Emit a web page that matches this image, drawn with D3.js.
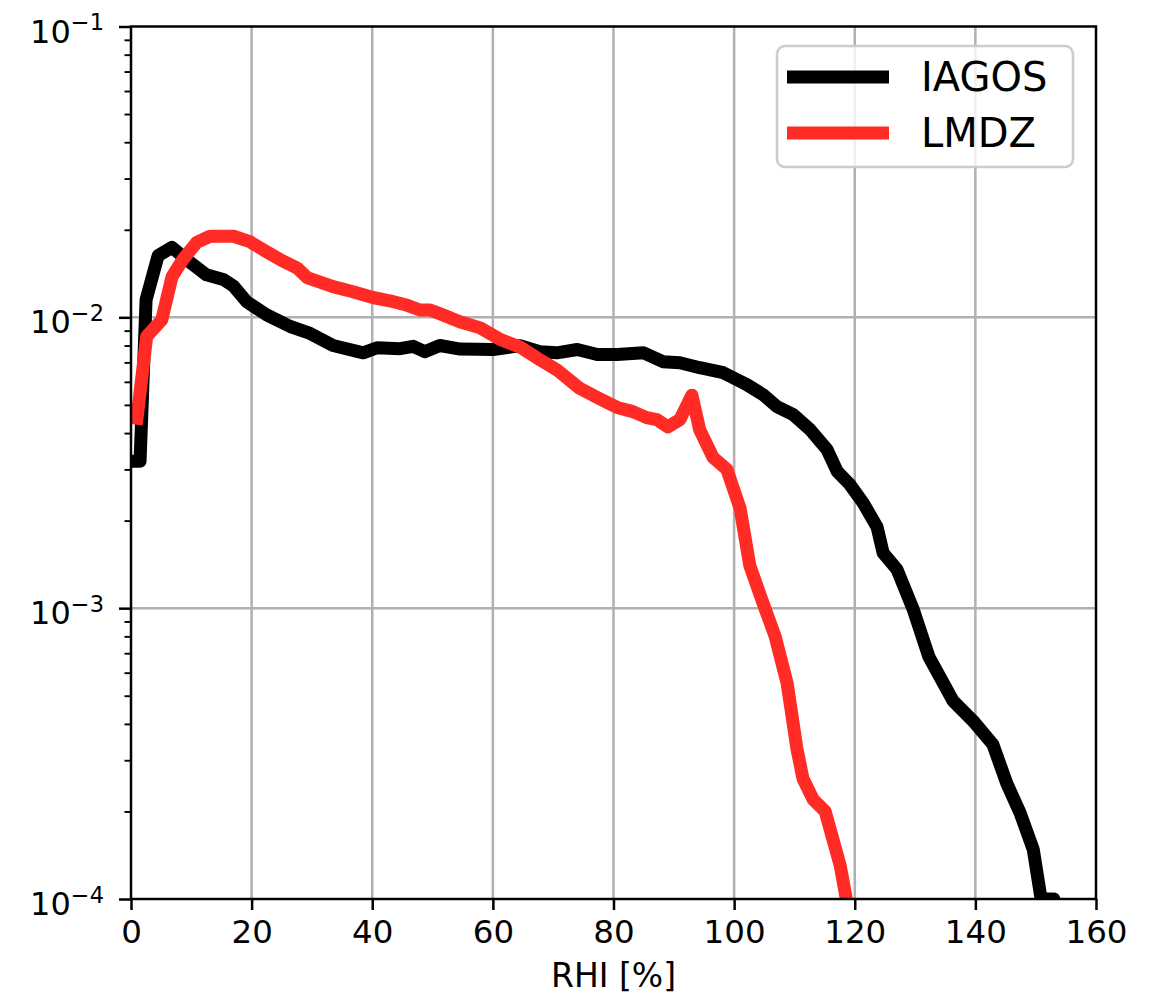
<!DOCTYPE html>
<html><head><meta charset="utf-8">
<script src="https://cdn.jsdelivr.net/npm/d3@7"></script>
<style>body{margin:0;background:#fff;} svg{display:block;font-family:"DejaVu Sans",sans-serif;}</style>
</head><body>
<svg id="c" width="1156" height="998"></svg>
<script>
// ---- data ----
const xTicks = [0, 20, 40, 60, 80, 100, 120, 140, 160];
const yTicks = [1e-4, 1e-3, 1e-2, 1e-1];
const yTickExp = ["\u22124", "\u22123", "\u22122", "\u22121"];
const seriesNames = ["IAGOS", "LMDZ"];
const seriesColors = ["#000000", "#ff2b24"];

const iagosRHI = [0.5, 1.5, 2.5, 4.5, 6.8, 9.2, 11, 12.5, 15.3, 17, 19.2, 22.5, 26.4, 29.7, 33.5, 38.5, 40.8, 44.6, 46.8, 48.7, 51.2, 54.6, 60, 64.5, 67.8, 70.6, 74, 77.3, 80.6, 85, 88.2, 91, 94.3, 98.2, 100.5, 102.1, 104.8, 107.1, 109.8, 112.6, 115.4, 117.1, 119.2, 121.4, 123.7, 124.7, 127, 129.7, 132.3, 136.3, 139.6, 142.9, 145.2, 147.4, 149.6, 150.9, 153, 155];
const iagosPDF = [0.0032, 0.0032, 0.0115, 0.0163, 0.0174, 0.0158, 0.0148, 0.0140, 0.0135, 0.0128, 0.0113, 0.0102, 0.0093, 0.0088, 0.0080, 0.00755, 0.00786, 0.00780, 0.00795, 0.00762, 0.0080, 0.00778, 0.00775, 0.00799, 0.00762, 0.00755, 0.00775, 0.00745, 0.00745, 0.00755, 0.00704, 0.00698, 0.00671, 0.00645, 0.0061, 0.00587, 0.00542, 0.00493, 0.00463, 0.00411, 0.00351, 0.00295, 0.00266, 0.0023, 0.0019, 0.00155, 0.00136, 0.00099, 0.00068, 0.00048, 0.00041, 0.00034, 0.00025, 0.000198, 0.000148, 0.0001, 0.0001, 0.00008];

const lmdzRHI = [1, 2.6, 5.1, 6.8, 8.6, 10.9, 13.1, 17, 19.7, 22.5, 25.2, 27.5, 29.2, 33.5, 36.8, 40.1, 42.9, 45.8, 47.9, 49.6, 51.7, 54.5, 57.9, 61.2, 64.5, 67.8, 70.6, 74.4, 77.3, 80.6, 83.2, 85.5, 87.2, 89, 91, 93, 94.3, 96.5, 98.8, 101, 102.6, 104.8, 106.8, 108.8, 110.4, 111.4, 113.1, 115.1, 116.4, 117.6, 118.6, 120];
const lmdzPDF = [0.0045, 0.0086, 0.0098, 0.0138, 0.0158, 0.0181, 0.019, 0.019, 0.0182, 0.0168, 0.0156, 0.0148, 0.0137, 0.01275, 0.01225, 0.0117, 0.0114, 0.0110, 0.0106, 0.0106, 0.0102, 0.00966, 0.0092, 0.0084, 0.0079, 0.00715, 0.0066, 0.0057, 0.0053, 0.0049, 0.00474, 0.00452, 0.00445, 0.0042, 0.00445, 0.0054, 0.0041, 0.0033, 0.0030, 0.0022, 0.0014, 0.00104, 0.0008, 0.00055, 0.00033, 0.00026, 0.00022, 0.0002, 0.00016, 0.00013, 0.0001, 0.00007];

// ---- layout ----
const L = 131, R = 1096, T = 26.5, B = 899;
const svg = d3.select("#c");
const x = d3.scaleLinear().domain([0, 160]).range([L, R]);
const y = d3.scaleLog().domain([1e-4, 1e-1]).range([B, T]);

svg.append("defs").append("clipPath").attr("id", "clip")
  .append("rect").attr("x", L).attr("y", T).attr("width", R - L).attr("height", B - T);

// grid
const grid = svg.append("g");
grid.selectAll("line.gx").data(xTicks.filter(d => d > 0 && d < 160)).join("line")
  .attr("x1", d => x(d)).attr("x2", d => x(d)).attr("y1", T).attr("y2", B)
  .attr("stroke", "#b0b0b0").attr("stroke-width", 2.5);
grid.selectAll("line.gy").data(yTicks.filter(d => d > 1e-4 && d < 1e-1)).join("line")
  .attr("y1", d => y(d)).attr("y2", d => y(d)).attr("x1", L).attr("x2", R)
  .attr("stroke", "#b0b0b0").attr("stroke-width", 2.5);

// lines
const series = [
  {name: seriesNames[0], xs: iagosRHI, ys: iagosPDF, color: seriesColors[0]},
  {name: seriesNames[1], xs: lmdzRHI, ys: lmdzPDF, color: seriesColors[1]}
];
const line = d3.line().x(d => x(d[0])).y(d => y(d[1]));
const lg = svg.append("g").attr("clip-path", "url(#clip)");
series.forEach(s => {
  lg.append("path").datum(d3.zip(s.xs, s.ys)).attr("d", line)
    .attr("fill", "none").attr("stroke", s.color).attr("stroke-width", 13)
    .attr("stroke-linejoin", "round").attr("stroke-linecap", "square");
});

// axes
const xAxis = svg.append("g").attr("transform", `translate(0,${B})`)
  .call(d3.axisBottom(x).tickValues(xTicks).tickSize(11).tickPadding(10).tickFormat(d3.format("d")));
xAxis.select(".domain").remove();
xAxis.selectAll(".tick line").attr("stroke", "#000").attr("stroke-width", 2.5);
xAxis.selectAll(".tick text").attr("font-size", 32.5).attr("font-family", "DejaVu Sans").attr("fill", "#000");

const minor = [];
[1e-4, 1e-3, 1e-2].forEach(b => { for (let k = 2; k <= 9; k++) minor.push(b * k); });
const yMinor = svg.append("g").attr("transform", `translate(${L},0)`)
  .call(d3.axisLeft(y).tickValues(minor).tickSize(6.5).tickFormat(""));
yMinor.select(".domain").remove();
yMinor.selectAll(".tick line").attr("stroke", "#000").attr("stroke-width", 1.9);

const yAxis = svg.append("g").attr("transform", `translate(${L},0)`)
  .call(d3.axisLeft(y).tickValues(yTicks).tickSize(12).tickFormat(""));
yAxis.select(".domain").remove();
yAxis.selectAll(".tick line").attr("stroke", "#000").attr("stroke-width", 2.5);
yAxis.selectAll(".tick").each(function(d, i) {
  const t = d3.select(this).append("text").attr("x", -27).attr("y", 15.5)
    .attr("text-anchor", "end").attr("fill", "#000").attr("font-family", "DejaVu Sans");
  t.append("tspan").attr("font-size", 32).text("10");
  t.append("tspan").attr("font-size", 22.5).attr("dy", -12.5).text(yTickExp[i]);
});

// spines
svg.append("rect").attr("x", L).attr("y", T).attr("width", R - L).attr("height", B - T)
  .attr("fill", "none").attr("stroke", "#000").attr("stroke-width", 2.5);

// x label
svg.append("text").attr("x", (L + R) / 2).attr("y", 987).attr("text-anchor", "middle")
  .attr("font-size", 33).attr("fill", "#000").text("RHI [%]");

// legend
const leg = svg.append("g");
leg.append("rect").attr("x", 777).attr("y", 46).attr("width", 296).attr("height", 121)
  .attr("rx", 8).attr("fill", "#fff").attr("fill-opacity", 0.8)
  .attr("stroke", "#cccccc").attr("stroke-width", 2.5);
series.forEach((s, i) => {
  const ly = 77 + i * 56;
  leg.append("line").attr("x1", 787).attr("x2", 889).attr("y1", ly).attr("y2", ly)
    .attr("stroke", s.color).attr("stroke-width", 13);
  leg.append("text").attr("x", 921).attr("y", ly + 13.5).attr("font-size", 40)
    .attr("fill", "#000").text(s.name);
});
</script>
</body></html>
